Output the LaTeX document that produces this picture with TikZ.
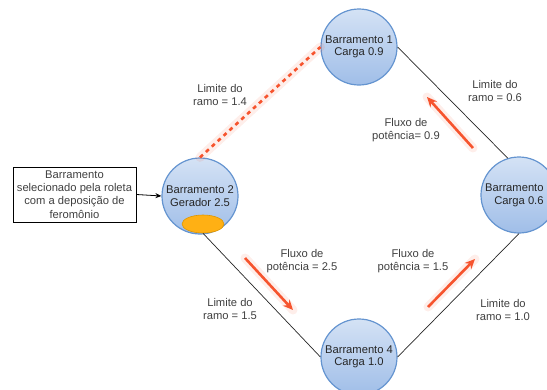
\documentclass[tikz,border=0pt]{standalone}
\usepackage{fontspec}
\setmainfont{Liberation Sans}
\usetikzlibrary{arrows.meta,shapes.geometric}
\definecolor{busedge}{RGB}{100,148,208}
\definecolor{bustop}{RGB}{212,226,245}
\definecolor{busbot}{RGB}{160,190,232}
\definecolor{flow}{RGB}{246,84,46}
\definecolor{labelgray}{RGB}{64,64,64}
\definecolor{genfill}{RGB}{255,176,20}
\definecolor{genedge}{RGB}{222,150,0}
\tikzset{
  bus/.style={circle, draw=busedge, line width=1.2pt, top color=bustop, bottom color=busbot,
    minimum size=76pt, inner sep=0pt, align=center, font=\fontsize{11.2}{12.5}\selectfont,
    text=black!85},
  genmark/.style={ellipse, draw=genedge, line width=0.6pt, fill=genfill,
    minimum width=42pt, minimum height=18pt, inner sep=0pt},
  lbl/.style={align=center, font=\fontsize{11.2}{13}\selectfont, text=labelgray},
  selbox/.style={draw=black, line width=0.9pt, fill=white, minimum width=123pt,
    minimum height=55pt, align=center, inner sep=0pt, font=\fontsize{11.2}{13.2}\selectfont,
    text=labelgray},
  branch/.style={draw=black!85, line width=0.7pt},
  glow/.style={draw=flow, line width=9pt, opacity=0.10, line cap=round},
  flowarrow/.style={draw=flow, line width=2.6pt, -{Stealth[length=10pt,width=9pt]}},
  limitdash/.style={draw=flow, line width=2.6pt, dash pattern=on 4pt off 4pt}
}
\begin{document}
\begin{tikzpicture}[x=1pt,y=-1pt]
\useasboundingbox (0,0) rectangle (547,389);
\clip (0,0) rectangle (547,389);

% bus nodes
\node[bus] (b1) at (359,47) {Barramento 1\\Carga 0.9};
\node[bus] (b2) at (200,196) {Barramento 2\\Gerador 2.5};
\node[bus] (b3) at (519,195) {Barramento 3\\Carga 0.6};
\node[bus] (b4) at (359,357) {Barramento 4\\Carga 1.0};
\node[genmark] (gen) at (203,224) {};

% selection box
\node[selbox] (sel) at (74.5,194.5) {Barramento\\selecionado pela roleta\\com a deposição de\\feromônio};
\draw[line width=0.8pt, -{Stealth[length=6pt,width=5pt]}] (sel.east) -- (b2.west);

% branches
\draw[branch] (b1.east) -- (b3.107);
\draw[branch] (gen.south) -- (b4.west);
\draw[branch] (b4.east) -- (b3.south);
\draw[glow] (b2.north) -- (b1.west);
\draw[limitdash] (b2.north) -- (b1.west);

% power flow arrows
\coordinate (f1s) at (473,148); \coordinate (f1e) at (427,97);
\coordinate (f2s) at (245,258); \coordinate (f2e) at (293,310);
\coordinate (f3s) at (428,307); \coordinate (f3e) at (475,259);
\draw[glow] (f1s) -- (f1e);
\draw[glow] (f2s) -- (f2e);
\draw[glow] (f3s) -- (f3e);
\draw[flowarrow] (f1s) -- (f1e);
\draw[flowarrow] (f2s) -- (f2e);
\draw[flowarrow] (f3s) -- (f3e);

% labels
\node[lbl] (l12) at (220,95) {Limite do\\ramo = 1.4};
\node[lbl] (l13) at (495,91) {Limite do\\ramo = 0.6};
\node[lbl] (p13) at (406,130) {Fluxo de\\potência= 0.9};
\node[lbl] (p24) at (302,261) {Fluxo de\\potência = 2.5};
\node[lbl] (l24) at (230,309) {Limite do\\ramo = 1.5};
\node[lbl] (p43) at (413,261) {Fluxo de\\potência = 1.5};
\node[lbl] (l43) at (503,310) {Limite do\\ramo = 1.0};
\end{tikzpicture}
\end{document}
